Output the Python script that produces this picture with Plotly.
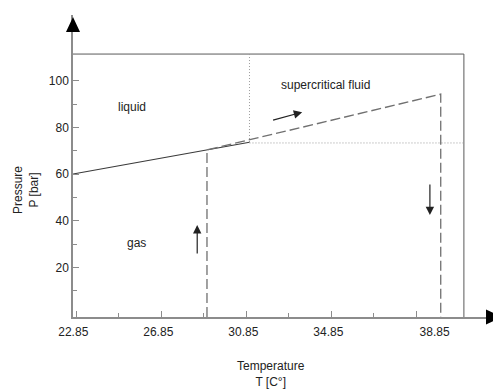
import plotly.graph_objects as go

# ---------------- data ----------------
# phase boundary (solid) : temperature [C] / pressure [bar]
T_boundary = [22.70, 29.0, 31.0]
P_boundary = [60.0, 70.3, 73.6]

# process path (dashed)
T_path = [29.0, 29.0, 40.0, 40.0]
P_path_top = [70.3, 94.2]

# critical point
T_crit = 31.0
P_crit = 73.3

# outer limits of the diagram box
T_box_max = 41.09
P_box_max = 111.4

# region labels
region_text = ["liquid", "supercritical fluid", "gas"]
region_T = [25.47, 34.58, 25.66]
region_P = [88.7, 98.1, 30.4]

# direction arrows: (T_tail, P_tail, T_head, P_head)
arrow_T_tail = [28.54, 39.49, 32.04]
arrow_P_tail = [25.3, 56.1, 82.9]
arrow_T_head = [28.54, 39.49, 33.48]
arrow_P_head = [38.1, 42.4, 86.5]

# axis ticks
x_ticks_major = [22.85, 26.85, 30.85, 34.85, 38.85]
x_ticks_minor = [24.85, 28.85, 32.85, 36.85]
x_label_vals = [22.85, 26.85, 30.85, 34.85, 39.85]
x_label_text = ["22.85", "26.85", "30.85", "34.85", "38.85"]
y_ticks_major = [20, 40, 60, 80, 100]
y_ticks_minor = [10, 30, 50, 70, 90]

# ---------------- layout constants ----------------
# the page body adds an 8px margin, so the figure is sized to fit the window
X_RANGE = [22.695, 42.836]
Y_RANGE = [-1.286, 128.14]
FONT = "Liberation Sans, Arial, sans-serif"
AXIS_COL = "#8c8c8c"

p_axis = Y_RANGE[0]
t_axis = X_RANGE[0]

fig = go.Figure()

# box outline (top + right)
fig.add_trace(go.Scatter(
    x=[t_axis, T_box_max, T_box_max], y=[P_box_max, P_box_max, p_axis],
    mode="lines", line=dict(color="#5a5a5a", width=1), hoverinfo="skip",
    showlegend=False))

# dotted critical lines
fig.add_trace(go.Scatter(
    x=[T_crit, T_crit, None, T_crit, T_box_max],
    y=[P_box_max, P_crit, None, P_crit, P_crit],
    mode="lines", line=dict(color="#9a9a9a", width=1, dash="1px,2px"),
    hoverinfo="skip", showlegend=False))

# phase boundary
fig.add_trace(go.Scatter(
    x=T_boundary, y=P_boundary, mode="lines",
    line=dict(color="#3a3a3a", width=1.2), hoverinfo="skip", showlegend=False))

# dashed process path
fig.add_trace(go.Scatter(
    x=T_path, y=[p_axis] + P_path_top + [p_axis], mode="lines",
    line=dict(color="#707070", width=1.3, dash="10px,4px"),
    hoverinfo="skip", showlegend=False))

# invisible trace for label axis
fig.add_trace(go.Scatter(x=[X_RANGE[0]], y=[Y_RANGE[0]], xaxis="x2",
                         mode="markers", marker=dict(opacity=0),
                         hoverinfo="skip", showlegend=False))

annotations = []
for txt, t, p in zip(region_text, region_T, region_P):
    annotations.append(dict(x=t, y=p, xref="x", yref="y", text=txt,
                            showarrow=False, font=dict(size=12, color="#222")))
for tt, pt, th, ph in zip(arrow_T_tail, arrow_P_tail, arrow_T_head, arrow_P_head):
    annotations.append(dict(x=th, y=ph, ax=tt, ay=pt, xref="x", yref="y",
                            axref="x", ayref="y", text="", showarrow=True,
                            arrowhead=2, arrowsize=1.4, arrowwidth=1.2,
                            arrowcolor="#222", standoff=0, startstandoff=0))

# axis titles
annotations.append(dict(x=-0.1098, y=0.4205, xref="paper", yref="paper",
                        text="Pressure<br>P [bar]", textangle=-90,
                        showarrow=False, xanchor="center", yanchor="middle",
                        font=dict(size=12, color="#222")))
annotations.append(dict(x=0.4626, y=-0.190, xref="paper", yref="paper",
                        text="Temperature<br>T [C°]", showarrow=False,
                        xanchor="center", yanchor="middle",
                        font=dict(size=12, color="#222")))

# big axis arrowheads (pixel-sized shapes anchored at axis ends)
shapes = [
    dict(type="path", xref="paper", yref="paper", xsizemode="pixel",
         ysizemode="pixel", xanchor=0, yanchor=0.9437,
         path="M -7 0 L 7 0 L 0 15 Z",
         fillcolor="black", line=dict(color="black", width=0)),
    dict(type="path", xref="paper", yref="paper", xsizemode="pixel",
         ysizemode="pixel", xanchor=0.965, yanchor=0,
         path="M 0 -7.5 L 0 7.5 L 16 0 Z",
         fillcolor="black", line=dict(color="black", width=0)),
]

fig.update_layout(
    width=493, height=381,
    margin=dict(l=65, r=0, t=7, b=72),
    paper_bgcolor="white", plot_bgcolor="white",
    font=dict(family=FONT, size=12, color="#222"),
    showlegend=False,
    annotations=annotations,
    shapes=shapes,
    xaxis=dict(range=X_RANGE, showgrid=False, zeroline=False,
               showline=True, linecolor=AXIS_COL, linewidth=1.5,
               tickmode="array", tickvals=x_ticks_major, showticklabels=False,
               ticks="inside", ticklen=6, tickcolor=AXIS_COL, tickwidth=1,
               minor=dict(tickmode="array", tickvals=x_ticks_minor,
                          ticks="inside", ticklen=4, tickcolor=AXIS_COL,
                          showgrid=False)),
    xaxis2=dict(range=X_RANGE, overlaying="x", side="bottom", showgrid=False,
                zeroline=False, showline=False, tickmode="array",
                tickvals=x_label_vals, ticktext=x_label_text, ticks="",
                ticklabelshift=-3, ticklabelstandoff=6,
                tickfont=dict(size=12, color="#222")),
    yaxis=dict(range=Y_RANGE, showgrid=False, zeroline=False,
               showline=True, linecolor=AXIS_COL, linewidth=1.5,
               tickmode="array", tickvals=y_ticks_major,
               ticks="inside", ticklen=6, tickcolor=AXIS_COL, tickwidth=1,
               tickfont=dict(size=12, color="#222"),
               minor=dict(tickmode="array", tickvals=y_ticks_minor,
                          ticks="inside", ticklen=4, tickcolor=AXIS_COL,
                          showgrid=False)),
)

fig.write_html("out.html")
